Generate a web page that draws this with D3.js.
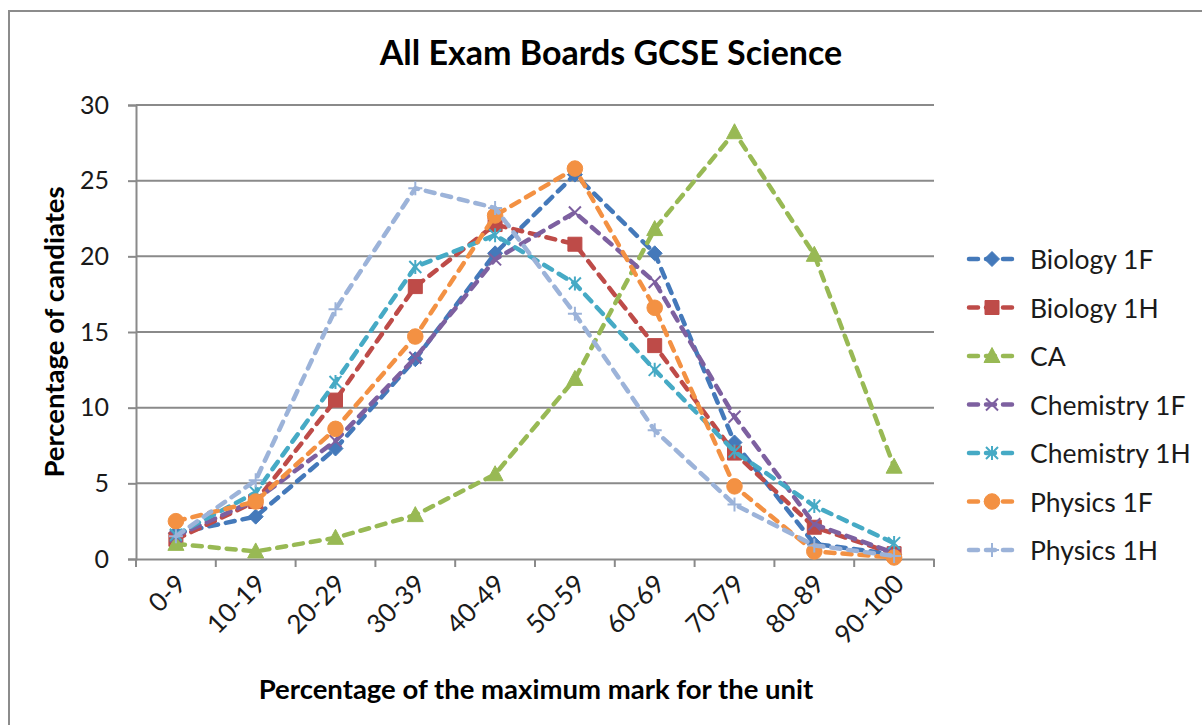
<!DOCTYPE html>
<html><head><meta charset="utf-8">
<script src="https://cdn.jsdelivr.net/npm/d3@7"></script>
<style>
html,body{margin:0;padding:0;background:#fff;}
svg{display:block;font-family:Lato, "Open Sans", sans-serif;}
</style></head>
<body>
<svg id="chart" width="1202" height="725"></svg>
<script>
const categories = ["0-9","10-19","20-29","30-39","40-49","50-59","60-69","70-79","80-89","90-100"];
const seriesNames = ["Biology 1F","Biology 1H","CA","Chemistry 1F","Chemistry 1H","Physics 1F","Physics 1H"];
const biology1F   = [1.7, 2.8, 7.3, 13.2, 20.2, 25.4, 20.2, 7.7, 1.0, 0.3];
const biology1H   = [1.3, 3.8, 10.5, 18.0, 22.1, 20.8, 14.1, 7.0, 2.1, 0.35];
const ca          = [1.0, 0.5, 1.4, 2.9, 5.6, 11.9, 21.8, 28.2, 20.1, 6.1];
const chemistry1F = [1.5, 3.9, 7.8, 13.3, 19.8, 22.9, 18.3, 9.4, 2.3, 0.4];
const chemistry1H = [1.6, 4.4, 11.7, 19.3, 21.4, 18.2, 12.5, 7.1, 3.5, 1.05];
const physics1F   = [2.5, 3.8, 8.6, 14.7, 22.7, 25.8, 16.6, 4.8, 0.5, 0.1];
const physics1H   = [1.5, 5.2, 16.5, 24.5, 23.2, 16.2, 8.5, 3.6, 0.9, 0.2];
const yTicks = [0, 5, 10, 15, 20, 25, 30];
const titleText = "All Exam Boards GCSE Science";
const xTitle = "Percentage of the maximum mark for the unit";
const yTitle = "Percentage of candiates";

const seriesValues = [biology1F, biology1H, ca, chemistry1F, chemistry1H, physics1F, physics1H];
const colors = ["#4479BA","#BE4B48","#98B954","#7D60A0","#46AAC5","#F39143","#9CB3D9"];
const markers = ["diamond","square","triangle","x","star","circle","plus"];

const svg = d3.select("#chart");
const plot = {left:136, right:934, top:105, bottom:559};

// outer chart border
svg.append("rect").attr("x",9).attr("y",11).attr("width",1230).attr("height",760)
  .attr("fill","#fff").attr("stroke","#8c8c8c").attr("stroke-width",2);

const x = d3.scaleBand().domain(categories).range([plot.left, plot.right]).padding(0);
const y = d3.scaleLinear().domain([0,30]).range([plot.bottom, plot.top]);
const xc = c => x(c) + x.bandwidth()/2;

// gridlines
svg.append("g").selectAll("line").data(yTicks.filter(d=>d>0)).join("line")
  .attr("x1",plot.left).attr("x2",plot.right)
  .attr("y1",d=>y(d)).attr("y2",d=>y(d))
  .attr("stroke","#8a8a8a").attr("stroke-width",2);

// y axis
const yAxis = svg.append("g").attr("transform",`translate(${plot.left},0)`)
  .call(d3.axisLeft(y).tickValues(yTicks).tickSize(8).tickPadding(19));
yAxis.select(".domain").attr("stroke","#8a8a8a").attr("stroke-width",2);
yAxis.selectAll(".tick line").attr("stroke","#8a8a8a").attr("stroke-width",2);
yAxis.selectAll(".tick text").attr("font-size",25).attr("fill","#1a1a1a")
  .attr("font-family","Lato, sans-serif");

// x axis
const xAxis = svg.append("g").attr("transform",`translate(0,${plot.bottom})`)
  .call(d3.axisBottom(x).tickSize(0).tickFormat(""));
xAxis.select(".domain").attr("stroke","#8a8a8a").attr("stroke-width",2);
const boundaries = d3.range(categories.length+1).map(i => plot.left + i*x.bandwidth());
svg.append("g").selectAll("line").data(boundaries).join("line")
  .attr("x1",d=>d).attr("x2",d=>d).attr("y1",plot.bottom).attr("y2",plot.bottom+8)
  .attr("stroke","#8a8a8a").attr("stroke-width",2);
svg.append("g").selectAll("text").data(categories).join("text")
  .attr("transform",c=>`translate(${xc(c)+7},${plot.bottom+22}) rotate(-45)`)
  .attr("text-anchor","end").attr("dominant-baseline","middle")
  .attr("font-size",26).attr("fill","#1a1a1a").text(c=>c);

// titles
svg.append("text").attr("x",611).attr("y",65).attr("text-anchor","middle")
  .attr("font-size",34).attr("font-weight","bold").attr("fill","#000").text(titleText);
svg.append("text").attr("x",536).attr("y",699).attr("text-anchor","middle")
  .attr("font-size",27.5).attr("font-weight","bold").attr("fill","#000").text(xTitle);
svg.append("text").attr("transform","translate(64,332) rotate(-90)").attr("text-anchor","middle")
  .attr("font-size",27.5).attr("font-weight","bold").attr("fill","#000").text(yTitle);

function markerPath(type){
  const s = 7.5;
  switch(type){
    case "diamond": return `M0,${-s}L${s},0L0,${s}L${-s},0Z`;
    case "square": return `M${-s+0.5},${-s+0.5}h${2*s-1}v${2*s-1}h${-2*s+1}Z`;
    case "triangle": return `M0,${-s-1}L${s+0.5},${s-1}L${-s-0.5},${s-1}Z`;
    case "circle": return d3.symbol().type(d3.symbolCircle).size(190)();
    case "x": return `M-6,-6L6,6M6,-6L-6,6`;
    case "star": return `M-6,-6L6,6M6,-6L-6,6M0,-7V7`;
    case "plus": return `M-7,0H7M0,-7V7`;
  }
}
const stroked = t => t==="x"||t==="star"||t==="plus";

const line = d3.line().x((d,i)=>xc(categories[i])).y(d=>y(d));

seriesValues.forEach((vals, si) => {
  const g = svg.append("g");
  g.append("path").datum(vals).attr("d",line).attr("fill","none")
    .attr("stroke",colors[si]).attr("stroke-width",4.5)
    .attr("stroke-dasharray","9,8").attr("stroke-linecap","round").attr("stroke-linejoin","round");
  g.selectAll("path.m").data(vals).join("path").attr("class","m")
    .attr("transform",(d,i)=>`translate(${xc(categories[i])},${y(d)})`)
    .attr("d",markerPath(markers[si]))
    .attr("fill",stroked(markers[si])?"none":colors[si])
    .attr("stroke",colors[si]).attr("stroke-width",stroked(markers[si])?2:1);
});

// legend
const legend = svg.append("g");
seriesNames.forEach((name, i) => {
  const ly = 259 + i*48.5;
  const g = legend.append("g").attr("transform",`translate(0,${ly})`);
  g.append("line").attr("x1",969).attr("x2",1016).attr("y1",0).attr("y2",0)
    .attr("stroke",colors[i]).attr("stroke-width",4.5)
    .attr("stroke-dasharray","9,8").attr("stroke-linecap","round");
  g.append("path").attr("transform","translate(992,0)").attr("d",markerPath(markers[i]))
    .attr("fill",stroked(markers[i])?"none":colors[i])
    .attr("stroke",colors[i]).attr("stroke-width",stroked(markers[i])?2:1);
  g.append("text").attr("x",1030).attr("y",0).attr("dominant-baseline","central")
    .attr("font-size",26.5).attr("fill","#1a1a1a").text(name);
});
</script>
</body></html>
